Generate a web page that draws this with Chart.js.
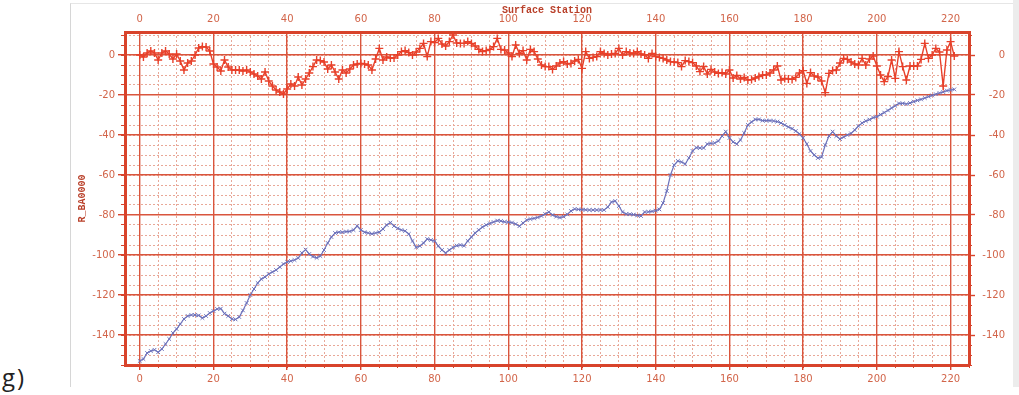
<!DOCTYPE html>
<html>
<head>
<meta charset="utf-8">
<script src="https://cdn.jsdelivr.net/npm/chart.js@4"></script>
<style>
  html, body { margin: 0; padding: 0; background: #fff; }
  #wrap { position: relative; width: 1019px; height: 395px; overflow: hidden; background: #fff; }
  #frame { position: absolute; left: 70px; top: 3px; width: 943px; height: 383px;
           border-left: 1px solid #d6d6d6; border-top: 1px solid #e6e6e6; }
  #edge { position: absolute; left: 1013px; top: 0; width: 6px; height: 387px; background: #ececec; }
  #tag { position: absolute; left: 2px; top: 363px; font: 24px "Open Sans", "Liberation Sans", sans-serif;
         color: #222; line-height: 28px; letter-spacing: 2px; }
  canvas { position: absolute; left: 0; top: 0; }
</style>
</head>
<body>
<div id="wrap">
  <div id="frame"></div>
  <div id="edge"></div>
  <div id="tag">g)</div>
  <canvas id="c" width="1019" height="395"></canvas>
</div>
<script>
// Station numbers along the profile
const stations = Array.from({ length: 222 }, (_, i) => i);

// Upper trace (red, "+" markers)
const redTrace = [
  0, -1, 1, 2, 1, -2.5, 1, 2, 0.5, -2,
  0.5, -3, -7.5, -4, -3, 0, 3.5, 4.2, 4, 2,
  -4.5, -6, -8, -2.5, -6, -7.5, -7.5, -7.5, -8, -7.5,
  -8.5, -9.5, -10.5, -12, -8.5, -13, -15.5, -17.5, -18.5, -19.5,
  -17, -14.5, -15.5, -11, -15, -12, -9, -5.8, -2.5, -2.8,
  -3.5, -7, -5, -8.5, -12, -7.5, -9, -7, -5, -4.5,
  -4.2, -4.5, -5, -7.5, -2, 3.3, -2.5, -1, -1.5, -1.5,
  0, 1.7, 2.2, 1.2, 0, 1.5, 3.3, 5.8, -0.8, 6.7,
  6.2, 8.3, 5.5, 4.5, 6.7, 10, 6, 5.8, 5.8, 6.7,
  5.8, 4.5, 2.8, 1.7, 2.2, 2.8, 4.2, 8.3, 2.8, 2.5,
  1, -0.8, 5, 0.8, 2.2, -2.5, 2.8, 1.7, -2, -5,
  -5.8, -5.8, -7.2, -5.5, -4, -3.3, -4.5, -4.2, -3, -2.2,
  -6.7, 1.7, -1.7, -1.2, -0.8, 1.7, 0.8, 0, 0.5, 0.8,
  3.3, 0, 1.7, 1, 0.8, 1.7, 0.5, 0, -1.7, 0.8,
  -0.8, -1.2, -1.7, -2.5, -3.3, -3.5, -3.8, -5.8, -2.8, -3.3,
  -3.8, -5.5, -8.3, -5.8, -9.5, -7.2, -8.5, -9.2, -8.8, -9.5,
  -7.5, -11.5, -10.2, -12, -11.2, -12.5, -12.3, -11.5, -10.8, -10,
  -10, -9, -7.5, -5.5, -12.5, -11.7, -12, -12.2, -11.2, -9,
  -7.8, -14.2, -8.8, -10.5, -11, -13, -18.8, -9.2, -7.8, -7.5,
  -4, -1.7, -2.2, -3.5, -4.5, -5, -1.7, -5, -2, -0.5,
  -5.5, -10, -13.3, -10.8, -2.5, -11.7, 1.7, -5.8, -12.5, -5.5,
  -5.5, -5.5, -2.2, 5.8, -1.7, 0, 3.3, 1.5, -15.5, 2.5,
  6.7, -0.5
];

// Lower trace (blue, "x" markers)
const blueTrace = [
  -153, -152, -149, -148, -147.4, -148.6, -147, -144.5, -142, -139,
  -137, -134.5, -132, -130.5, -130, -130, -130.2, -131.5, -130.5, -129,
  -128, -127, -126.8, -129.3, -130.5, -132, -132.2, -131, -127.7, -124,
  -120, -117, -114, -112, -111, -109.5, -108.5, -107.5, -106, -104.5,
  -103.5, -103, -102.5, -101.5, -99, -97.3, -99.5, -100.8, -101.4, -100.5,
  -97.5, -94, -91, -89, -88.6, -88.6, -88.3, -88.2, -87.5, -85.5,
  -87.5, -88.6, -89, -89.4, -89, -88.6, -87, -85, -83.8, -85.5,
  -86.7, -87.5, -88, -89.5, -93, -96.2, -95.5, -94, -92, -92.5,
  -93, -95.5, -97.5, -99, -97.5, -96.2, -95.3, -95, -95.4, -93,
  -91, -89, -87.5, -86, -85, -84.2, -83.5, -82.8, -83, -83.4,
  -83.6, -83.8, -84.5, -85.6, -84, -82.5, -82, -81.7, -81.2, -80.5,
  -79.5, -78.5, -80, -80.8, -81.3, -80.8, -79.7, -78, -77, -77.2,
  -77.3, -77.4, -77.5, -77.5, -77.5, -77.5, -77.5, -76, -73.5, -73,
  -75.5, -78.5, -79.5, -79.6, -79.8, -80.2, -80.5, -78.5, -78.4, -78.2,
  -77.8, -77.2, -74, -68, -60, -55, -53, -53.5, -54.5, -51.5,
  -48, -46.3, -46.5, -46.5, -44.5, -44.2, -44, -43, -40.5, -38.3,
  -41.5, -43.5, -44.5, -42.5, -39, -35, -33.5, -32.2, -32.2, -32.8,
  -32.8, -32.8, -33, -33.3, -34, -35, -36, -36.8, -38, -39.5,
  -41.5, -44.5, -48, -50, -51.5, -51, -45, -40.5, -38.3, -40.5,
  -42, -41, -40, -39.2, -37.5, -35.5, -34, -33, -32.3, -31.3,
  -30.8, -29.8, -28.8, -27.7, -26.5, -25.4, -24.2, -24.2, -24.5, -24,
  -23.3, -22.7, -22.2, -21.5, -20.8, -20.2, -19.6, -19, -18.5, -17.8,
  -17.5, -17.2
];

// Axis ranges and tick spacing
const xRange = [-4, 225];
const yRange = [-155, 11.5];
const majorStep = 20;
const minorStep = 5;
const xTitle = 'Surface Station';
const yTitle = 'R_BA0000';

const majorColor = '#d9553d';
const minorColor = '#e8a898';
const edgeColor = '#d8432b';
const labelColor = '#d2654a';
const titleColor = '#b9402a';
const tickFont = { family: '"DejaVu Sans", Verdana, sans-serif', size: 10 };
const titleFont = { family: '"Liberation Mono", "Courier New", monospace', size: 10, weight: 'bold' };

const pts = arr => stations.map((s, i) => ({ x: s, y: arr[i] }));

function majorAxis(position, extra) {
  return Object.assign({
    type: 'linear', position,
    min: (position === 'top' || position === 'bottom') ? xRange[0] : yRange[0],
    max: (position === 'top' || position === 'bottom') ? xRange[1] : yRange[1],
    ticks: { stepSize: majorStep, includeBounds: false, color: labelColor, font: tickFont, maxRotation: 0, padding: 3 },
    border: { display: true, color: edgeColor, width: 3 }
  }, extra);
}

function minorAxis(position, size, onArea, tickLen) {
  const horiz = position === 'top' || position === 'bottom';
  return {
    type: 'linear', position, weight: -1,
    min: horiz ? xRange[0] : yRange[0],
    max: horiz ? xRange[1] : yRange[1],
    ticks: { display: false, stepSize: minorStep, includeBounds: false },
    grid: { color: minorColor, lineWidth: 1, z: -2, drawOnChartArea: onArea,
            drawTicks: true, tickLength: tickLen, tickColor: edgeColor, tickWidth: 1 },
    border: { display: false, dash: [2, 2] },
    afterFit: s => { if (horiz) s.height = size; else s.width = size; }
  };
}

new Chart(document.getElementById('c'), {
  type: 'line',
  data: {
    datasets: [
      {
        data: pts(redTrace),
        borderColor: '#e8402a', backgroundColor: '#e8402a',
        borderWidth: 1.4, pointStyle: 'cross', pointRadius: 4, pointBorderWidth: 1.4,
        xAxisID: 'x', yAxisID: 'y'
      },
      {
        data: pts(blueTrace),
        borderColor: '#6d72bb', backgroundColor: '#6d72bb',
        borderWidth: 1.2, pointStyle: 'crossRot', pointRadius: 2.6, pointBorderWidth: 1,
        xAxisID: 'x', yAxisID: 'y'
      }
    ]
  },
  options: {
    responsive: false,
    animation: false,
    layout: { padding: { left: 70, right: 14, top: 0, bottom: 8 } },
    elements: { line: { tension: 0 } },
    plugins: { legend: { display: false }, tooltip: { enabled: false } },
    scales: {
      x: majorAxis('bottom', {
        grid: { color: majorColor, lineWidth: 1.4, z: -1, tickLength: 5, tickColor: edgeColor },
        afterFit: s => { s.height = 22; }
      }),
      xm: minorAxis('bottom', 0, true, 3),
      xt: majorAxis('top', {
        grid: { display: true, drawOnChartArea: false, drawTicks: false },
        ticks: { stepSize: majorStep, includeBounds: false, color: labelColor, font: tickFont, maxRotation: 0, padding: 7 },
        title: { display: true, text: xTitle, color: titleColor, font: titleFont, padding: { top: 4, bottom: 0 } },
        afterFit: s => { s.height = 32; }
      }),
      y: majorAxis('left', {
        grid: { color: majorColor, lineWidth: 1.4, z: -1, tickLength: 7, tickColor: edgeColor },
        title: { display: true, text: yTitle, color: titleColor, font: titleFont, padding: { top: 6, bottom: 0 } },
        afterFit: s => { s.width = 55; }
      }),
      ym: minorAxis('left', 0, true, 4),
      yr: majorAxis('right', {
        grid: { drawOnChartArea: false, tickLength: 6, tickColor: edgeColor, tickWidth: 1.4 },
        ticks: { stepSize: majorStep, includeBounds: false, color: labelColor, font: tickFont, padding: 3, crossAlign: 'far' },
        afterFit: s => { s.width = 36; }
      }),
      yrm: minorAxis('right', 0, false, 3)
    }
  }
});
</script>
</body>
</html>
